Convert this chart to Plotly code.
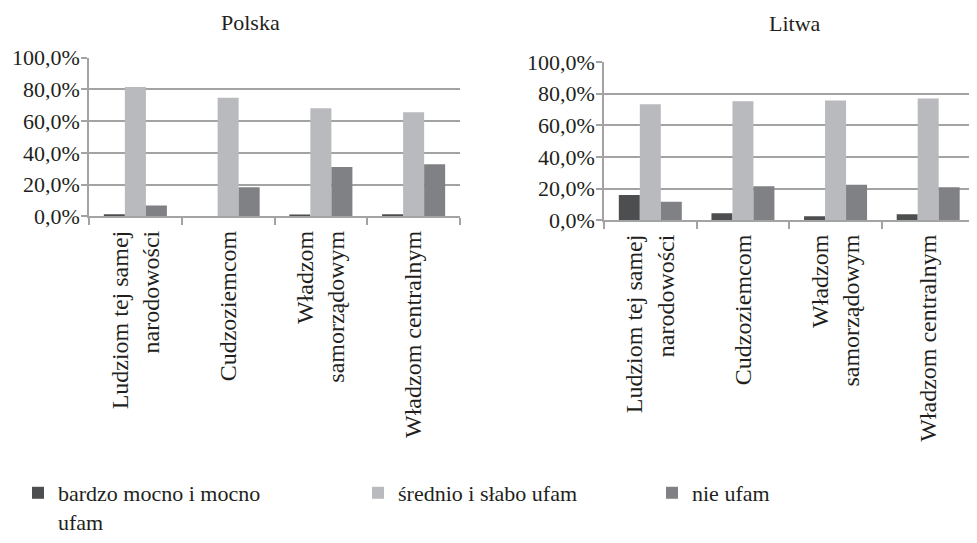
import plotly.graph_objects as go

# ---- data ----
categories = ["Ludziom tej samej<br>narodowości", "Cudzoziemcom",
              "Władzom<br>samorządowym", "Władzom centralnym"]
series_names = ["bardzo mocno i mocno<br>ufam", "średnio i słabo ufam", "nie ufam"]
panel_titles = ["Polska", "Litwa"]

polska_bardzo = [0.014, 0.0, 0.008, 0.014]
polska_srednio = [0.814, 0.747, 0.681, 0.656]
polska_nie = [0.068, 0.184, 0.311, 0.329]

litwa_bardzo = [0.160, 0.044, 0.026, 0.038]
litwa_srednio = [0.732, 0.752, 0.757, 0.769]
litwa_nie = [0.117, 0.215, 0.225, 0.209]

y_ticks = [0, 0.2, 0.4, 0.6, 0.8, 1.0]

# ---- style ----
colors = ["#4d4e50", "#b9babd", "#808184"]
FONT = "Liberation Serif"
TXT = "#231f20"
GRID = "#a3a3a3"
OFF = 8            # page body margin
W, H = 977 - OFF, 543 - OFF

fig = go.Figure()

panels = [
    ("x", "y", [polska_bardzo, polska_srednio, polska_nie]),
    ("x2", "y2", [litwa_bardzo, litwa_srednio, litwa_nie]),
]
legend_ids = ["legend", "legend2", "legend3"]
for p, (xa, ya, vals) in enumerate(panels):
    for i, v in enumerate(vals):
        fig.add_trace(go.Bar(
            x=categories, y=v, name=series_names[i],
            marker=dict(color=colors[i], line=dict(width=0)),
            xaxis=xa, yaxis=ya,
            showlegend=(p == 0), legend=legend_ids[i],
        ))

def px_x(v):
    return (v - OFF) / W

def px_y(v):
    return 1 - (v - OFF) / H

xaxis_common = dict(
    type="category", showline=True, linecolor=GRID, linewidth=1.5,
    ticks="outside", tickson="boundaries", ticklen=7, tickcolor=GRID, tickwidth=1.5,
    tickangle=-90, tickfont=dict(family=FONT, size=24, color=TXT),
    ticklabelstandoff=3,
    showgrid=False, automargin=False, fixedrange=True,
)
yaxis_common = dict(
    range=[0, 1], tickvals=y_ticks, tickformat=".1%",
    showline=True, linecolor=GRID, linewidth=1.5,
    ticks="outside", ticklen=6, tickcolor=GRID, tickwidth=1.5,
    ticklabelstandoff=-3,
    showgrid=True, gridcolor=GRID, gridwidth=1.5, zeroline=False,
    tickfont=dict(family=FONT, size=22, color=TXT), automargin=False,
    fixedrange=True,
)

legend_common = dict(
    orientation="h", xanchor="left", yanchor="top",
    font=dict(family=FONT, size=22, color=TXT), bgcolor="rgba(0,0,0,0)",
    valign="top", itemclick=False, itemdoubleclick=False,
)

fig.update_layout(
    width=W, height=H, margin=dict(l=0, r=0, t=0, b=0),
    paper_bgcolor="white", plot_bgcolor="white",
    font=dict(family=FONT, color=TXT),
    separators=", ",
    barmode="group", bargap=0.32, bargroupgap=0,
    xaxis=dict(domain=[px_x(89), px_x(460)], anchor="y", **xaxis_common),
    yaxis=dict(domain=[px_y(224.5), px_y(59.5)], anchor="x", **yaxis_common),
    xaxis2=dict(domain=[px_x(604), px_x(974.5)], anchor="y2", **xaxis_common),
    yaxis2=dict(domain=[px_y(228.5), px_y(64)], anchor="x2", **yaxis_common),
    legend=dict(x=px_x(18), y=px_y(490), **legend_common),
    legend2=dict(x=px_x(358), y=px_y(490), **legend_common),
    legend3=dict(x=px_x(652), y=px_y(490), **legend_common),
    annotations=[
        dict(text=panel_titles[0], x=px_x(250), y=1, xref="paper", yref="paper",
             showarrow=False, xanchor="center", yanchor="top",
             font=dict(family=FONT, size=22, color=TXT)),
        dict(text=panel_titles[1], x=px_x(795), y=px_y(9), xref="paper", yref="paper",
             showarrow=False, xanchor="center", yanchor="top",
             font=dict(family=FONT, size=22, color=TXT)),
    ],
)

fig.write_html("out.html")
